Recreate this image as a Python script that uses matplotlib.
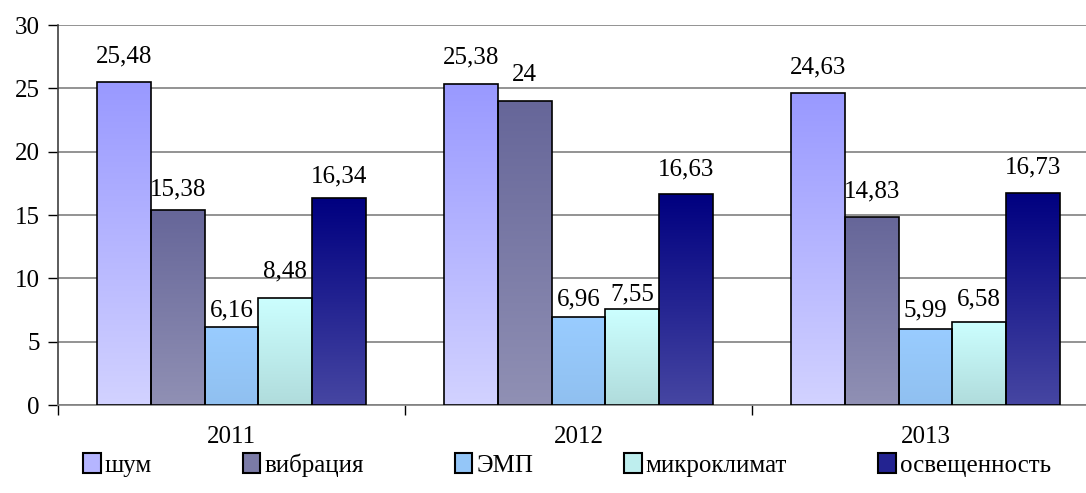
import numpy as np
import matplotlib
matplotlib.use('Agg')
import matplotlib.pyplot as plt
from matplotlib.colors import LinearSegmentedColormap, to_rgb
from matplotlib.patches import Patch

plt.rcParams['font.family'] = ['Liberation Serif', 'DejaVu Serif']

# данные по годам
years = ['2011', '2012', '2013']
series = ['шум', 'вибрация', 'ЭМП', 'микроклимат', 'освещенность']
shum = [25.48, 25.38, 24.63]
vibr = [15.38, 24, 14.83]
emp = [6.16, 6.96, 5.99]
mikro = [8.48, 7.55, 6.58]
osv = [16.34, 16.63, 16.73]
values = [shum, vibr, emp, mikro, osv]

# отступ подписи над столбцом, px
label_gap = [[20, 20, 20],
             [15, 20, 20],
             [11, 11, 13],
             [20, 9, 16],
             [16, 19, 20]]

# градиенты заливки: (верх, низ)
grads = [('#9999FF', '#D2D2FF'),
         ('#666699', '#9090B4'),
         ('#99CCFF', '#90C0F0'),
         ('#CCFFFF', '#B0DCDC'),
         ('#000080', '#4646A2')]

fig = plt.figure(figsize=(10.86, 4.93), dpi=100)
ax = fig.add_axes([58 / 1086, 88 / 493, 1041 / 1086, 380 / 493])

x = np.arange(len(years))
w = 0.1546
fs = 18

for i, (vals, (top, bot)) in enumerate(zip(values, grads)):
    pos = x + (i - 2) * w
    bars = ax.bar(pos, vals, w, facecolor='none', edgecolor='black',
                  linewidth=1.2, zorder=4)
    cmap = LinearSegmentedColormap.from_list('g%d' % i, [to_rgb(bot), to_rgb(top)])
    grad = np.linspace(0, 1, 256).reshape(-1, 1)
    for j, (b, v) in enumerate(zip(bars, vals)):
        x0 = b.get_x()
        im = ax.imshow(grad, cmap=cmap, aspect='auto', origin='lower',
                       extent=[x0, x0 + w, 0, v], zorder=3)
        im.set_clip_path(b)
        lbl = ('%g' % v).replace('.', ',')
        ax.annotate(lbl, (x0 + w / 2, v), xytext=(0, label_gap[i][j] * 0.72),
                    textcoords='offset points', ha='center', va='baseline',
                    fontsize=fs, zorder=5)

ax.set_xlim(-0.5, 2.5)
ax.set_ylim(0, 30)
ax.set_yticks(range(0, 31, 5))
ax.yaxis.grid(True, color='#808080', linewidth=1.2, zorder=0)
ax.set_axisbelow(True)

ax.set_xticks([-0.5, 0.5, 1.5, 2.5])
ax.set_xticklabels([])
ax.set_xticks(x, years, minor=True)
ax.tick_params(axis='x', which='minor', length=0, labelsize=fs, pad=15)
ax.tick_params(axis='x', which='major', length=7, width=1, color='black')
ax.tick_params(axis='y', length=7, width=1, labelsize=fs, pad=6)

for s in ['top', 'right']:
    ax.spines[s].set_visible(False)
ax.spines['left'].set_color('#404040')
ax.spines['left'].set_linewidth(1.2)
ax.spines['bottom'].set_color('#808080')
ax.spines['bottom'].set_linewidth(1.2)

handles = [Patch(facecolor=(np.array(to_rgb(t)) + np.array(to_rgb(b))) / 2,
                 edgecolor='black', linewidth=1.5) for t, b in grads]
fig.legend(handles, series, loc='center', bbox_to_anchor=(0.522, 0.057),
           ncol=5, frameon=False, fontsize=fs, handlelength=0.7,
           handleheight=0.8, handletextpad=0.15, columnspacing=3.65)

fig.savefig('out.png', dpi=100)
